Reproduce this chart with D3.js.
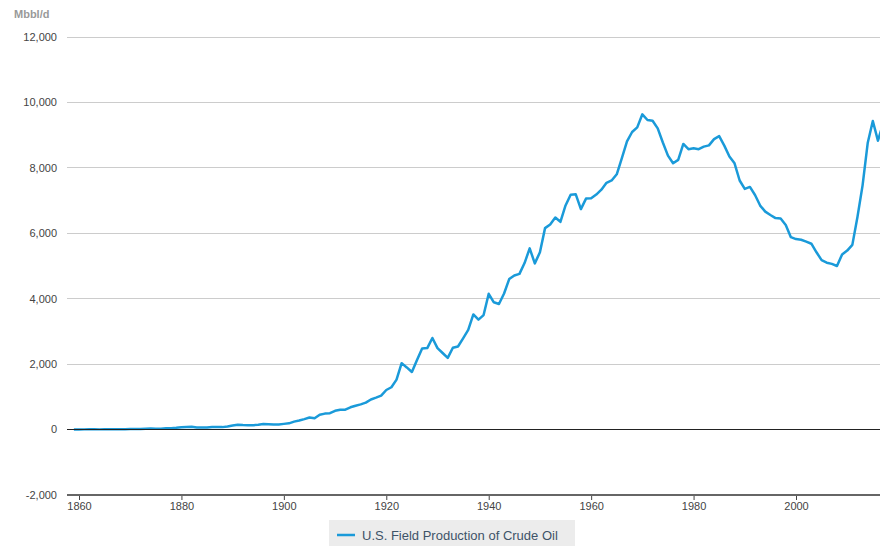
<!DOCTYPE html>
<html>
<head>
<meta charset="utf-8">
<script src="https://cdn.jsdelivr.net/npm/d3@7"></script>
<style>
  html, body { margin: 0; padding: 0; background: #fff; }
  svg { display: block; font-family: "Liberation Sans", Arial, sans-serif; }
</style>
</head>
<body>
<svg id="chart" width="880" height="546"></svg>
<script>
// ---- data (thousand barrels per day, annual) ----
const startYear = 1859;
const production = [
  0, 1, 6, 8, 7, 6, 7, 10, 9, 10, 12,            // 1859-1869
  14, 14, 17, 27, 30, 24, 25, 37, 42, 55,         // 1870-1879
  72, 76, 83, 64, 66, 60, 77, 77, 75, 96,         // 1880-1889
  126, 149, 138, 133, 135, 145, 167, 166, 152, 156, // 1890-1899
  174, 190, 243, 275, 320, 369, 347, 455, 488, 502, // 1900-1909
  574, 604, 609, 681, 728, 770, 822, 919, 975, 1037, // 1910-1919
  1210, 1294, 1527, 2030, 1900, 1760, 2130, 2480, 2490, 2800, // 1920-1929
  2490, 2340, 2190, 2500, 2540, 2790, 3050, 3520, 3360, 3500, // 1930-1939
  4150, 3890, 3840, 4160, 4600, 4710, 4760, 5090, 5540, 5080, // 1940-1949
  5420, 6158, 6270, 6480, 6350, 6850, 7180, 7190, 6740, 7060, // 1950-1959
  7070, 7183, 7332, 7542, 7614, 7804, 8295, 8810, 9096, 9238, // 1960-1969
  9637, 9463, 9441, 9208, 8774, 8375, 8140, 8245, 8730, 8570, // 1970-1979
  8597, 8572, 8649, 8688, 8879, 8971, 8680, 8349, 8140, 7613, // 1980-1989
  7355, 7417, 7171, 6847, 6662, 6560, 6465, 6452, 6252, 5881, // 1990-1999
  5822, 5801, 5746, 5681, 5419, 5178, 5102, 5064, 5000, 5353, // 2000-2009
  5471, 5645, 6497, 7466, 8759, 9431, 8831, 9352              // 2010-2017
];
const yTicks = [-2000, 0, 2000, 4000, 6000, 8000, 10000, 12000];
const xTicks = [1860, 1880, 1900, 1920, 1940, 1960, 1980, 2000];
const seriesName = "U.S. Field Production of Crude Oil";
const unitLabel = "Mbbl/d";

const data = production.map((v, i) => ({ year: startYear + i, value: v }));

// ---- scales ----
const x = d3.scaleLinear().domain([1860, 2000]).range([79, 796]);
const y = d3.scaleLinear().domain([-2000, 12000]).range([495, 37]);
const plotLeft = 67, plotRight = 880;
const fmtY = d3.formatLocale({ decimal: ".", thousands: ",", grouping: [3], currency: ["$", ""], minus: "-" }).format(",");

const svg = d3.select("#chart");

// unit label
svg.append("text")
  .attr("x", 14).attr("y", 18)
  .attr("font-size", 11).attr("font-weight", "bold")
  .attr("fill", "#999")
  .text(unitLabel);

// gridlines + y labels
const yg = svg.append("g");
yTicks.forEach(t => {
  if (t !== -2000 && t !== 0) {
    yg.append("line")
      .attr("x1", plotLeft).attr("x2", plotRight)
      .attr("y1", y(t)).attr("y2", y(t))
      .attr("stroke", "#ccc").attr("stroke-width", 1)
      .attr("shape-rendering", "crispEdges");
  }
  yg.append("text")
    .attr("x", 57).attr("y", y(t))
    .attr("dy", "0.35em")
    .attr("text-anchor", "end")
    .attr("font-size", 11).attr("fill", "#444")
    .text(fmtY(t));
});

// x axis (at y = -2000)
const xAxis = d3.axisBottom(x)
  .tickValues(xTicks)
  .tickFormat(d3.format("d"))
  .tickSize(5)
  .tickSizeOuter(0);
const xg = svg.append("g")
  .attr("transform", `translate(0,${y(-2000)})`)
  .call(xAxis);
xg.select(".domain").remove();
xg.append("line")
  .attr("x1", plotLeft).attr("x2", plotRight)
  .attr("y1", 0).attr("y2", 0)
  .attr("stroke", "#666").attr("stroke-width", 2);
xg.selectAll(".tick line").attr("stroke", "#444");
xg.selectAll(".tick text")
  .attr("font-size", 11).attr("fill", "#444")
  .attr("y", 7)
  .attr("font-family", "Liberation Sans, Arial, sans-serif");

// line
const line = d3.line()
  .x(d => x(d.year))
  .y(d => y(d.value));
svg.append("path")
  .datum(data)
  .attr("fill", "none")
  .attr("stroke", "#1a9ad9")
  .attr("stroke-width", 2.5)
  .attr("stroke-linejoin", "round")
  .attr("d", line);

// zero baseline
svg.append("line")
  .attr("x1", plotLeft).attr("x2", plotRight)
  .attr("y1", y(0)).attr("y2", y(0))
  .attr("stroke", "#222").attr("stroke-width", 1)
  .attr("shape-rendering", "crispEdges");

// legend
const lg = svg.append("g");
lg.append("rect")
  .attr("x", 329).attr("y", 520)
  .attr("width", 246).attr("height", 30)
  .attr("fill", "#ececec");
lg.append("line")
  .attr("x1", 337).attr("x2", 355)
  .attr("y1", 535).attr("y2", 535)
  .attr("stroke", "#1a9ad9").attr("stroke-width", 2.5);
lg.append("text")
  .attr("x", 362).attr("y", 535)
  .attr("dy", "0.35em")
  .attr("font-size", 13).attr("fill", "#3e5368")
  .text(seriesName);
</script>
</body>
</html>
